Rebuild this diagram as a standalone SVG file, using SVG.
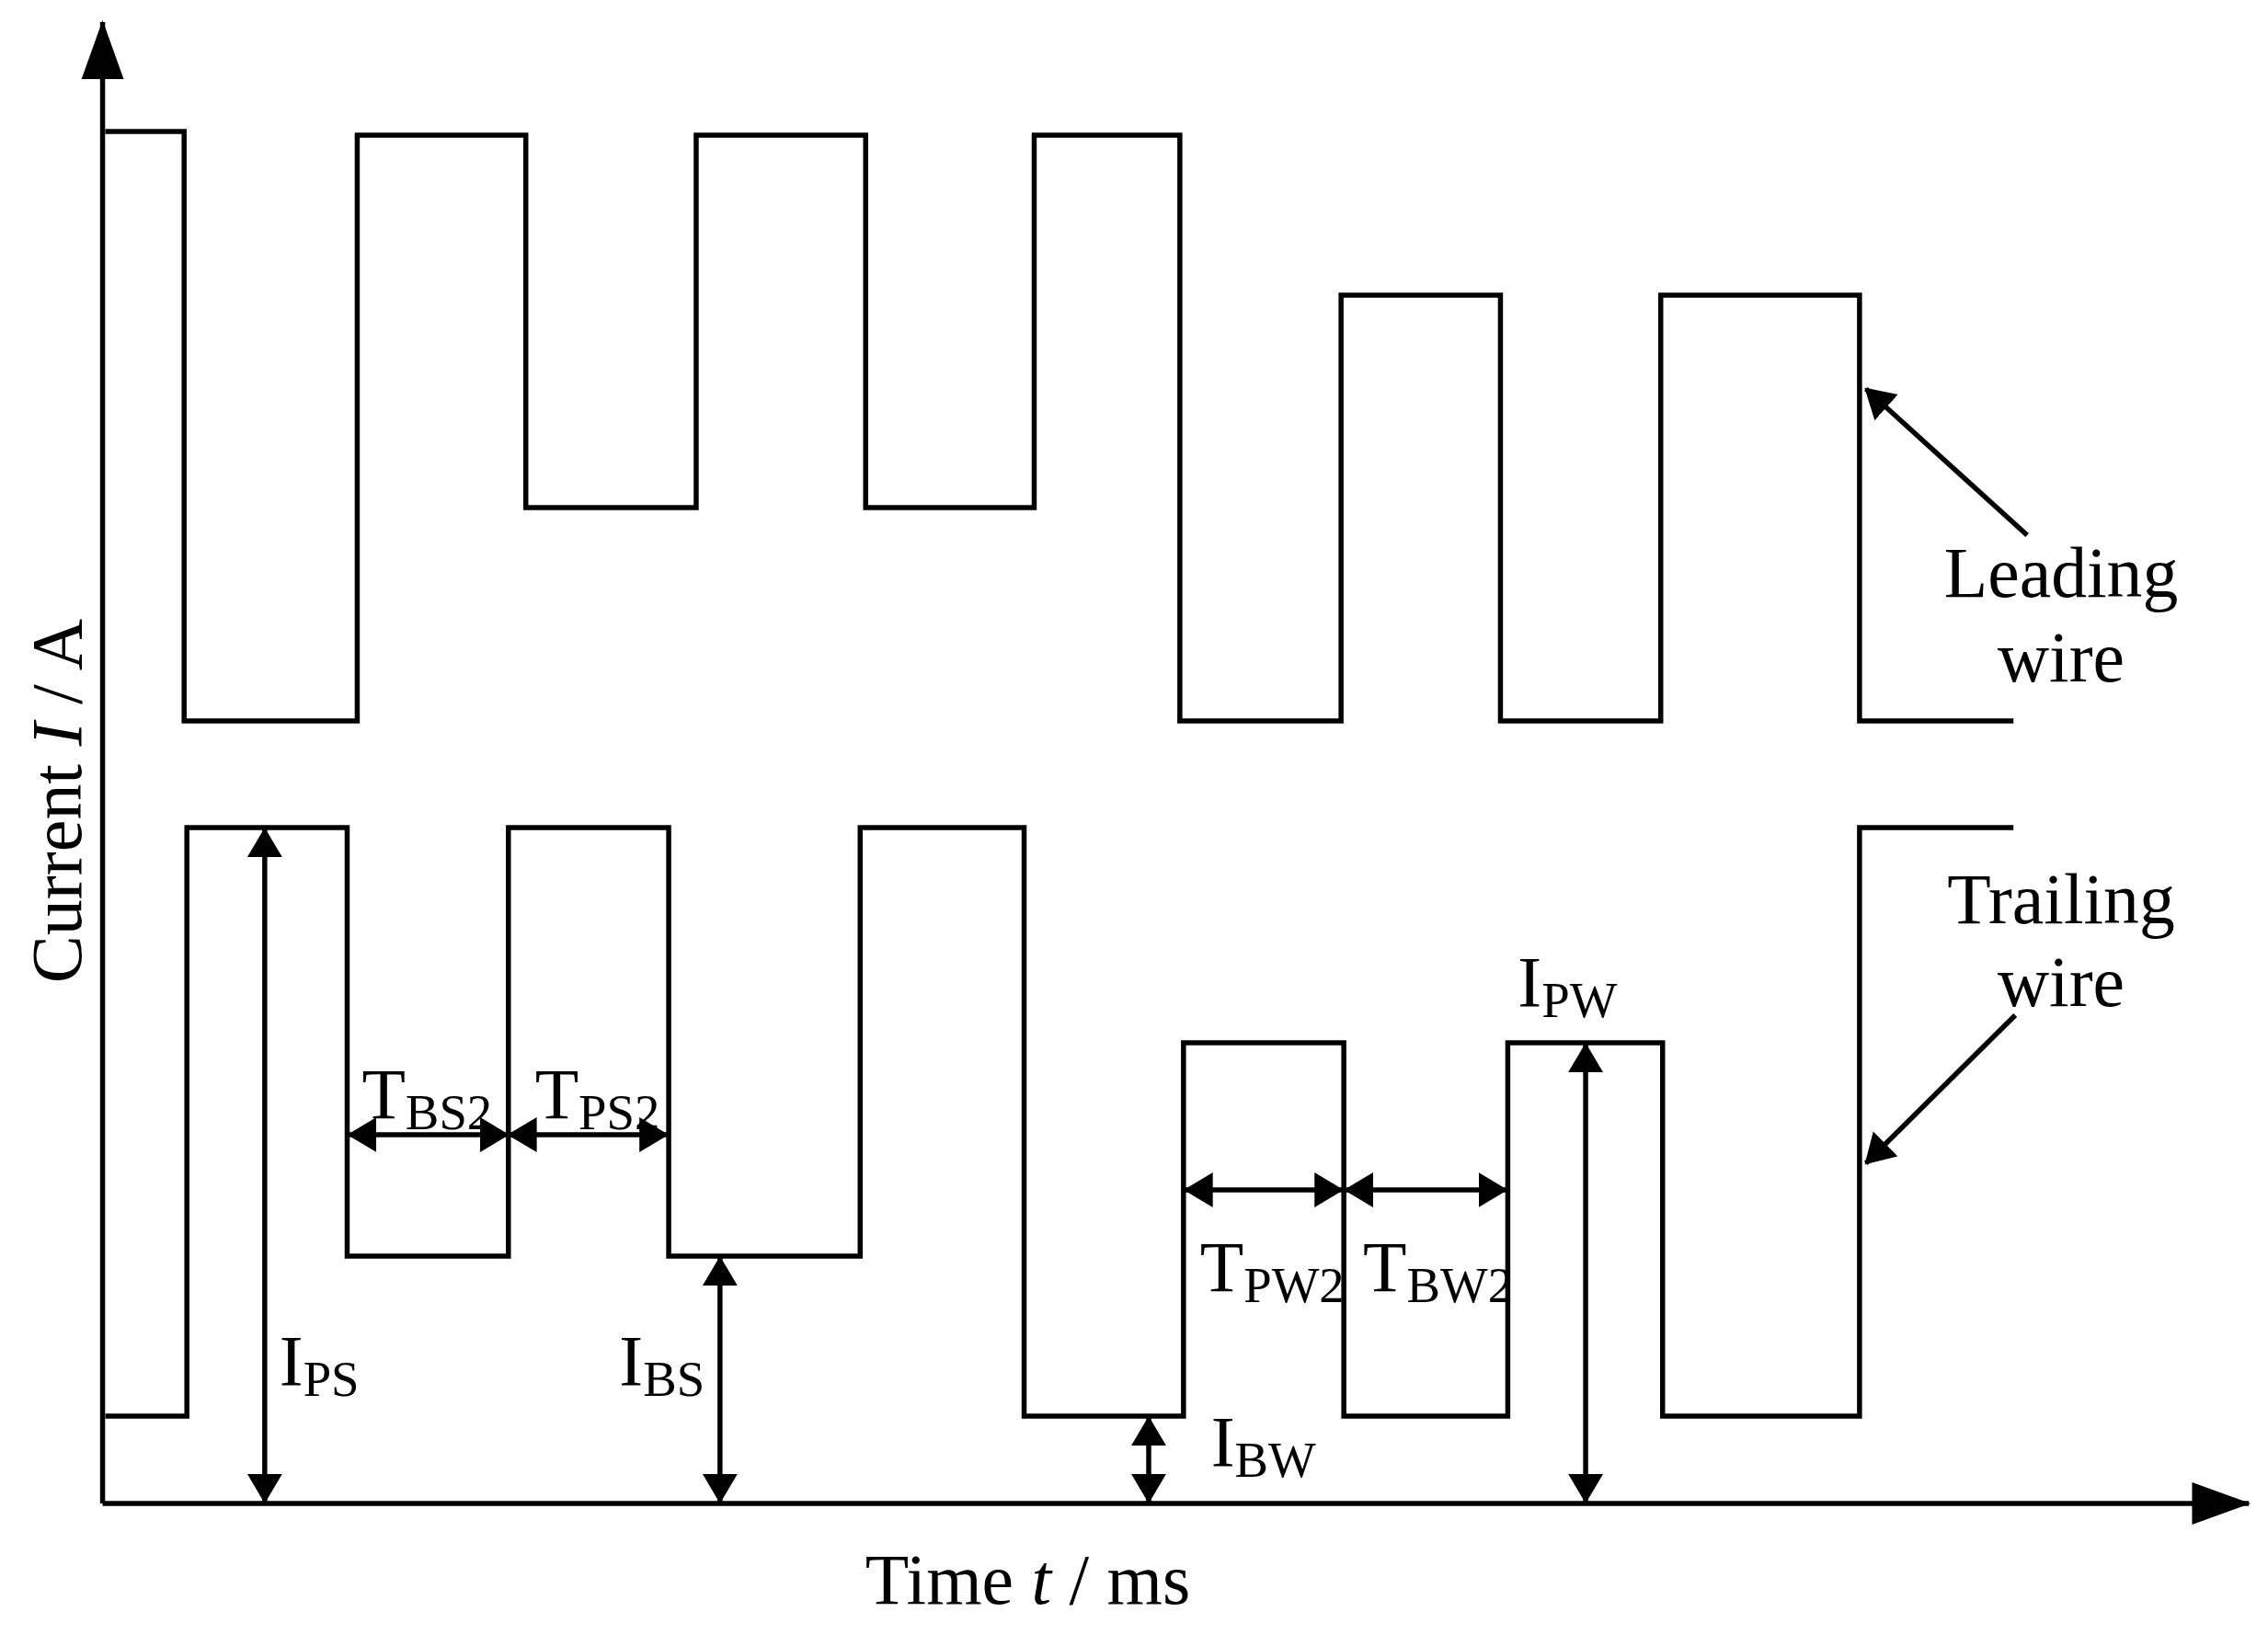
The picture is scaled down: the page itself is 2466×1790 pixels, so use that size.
<svg xmlns="http://www.w3.org/2000/svg" width="2466" height="1790" viewBox="0 0 2466 1790">
<style>
.w{fill:none;stroke:#000;stroke-width:5.5;stroke-linejoin:miter}
.d{fill:none;stroke:#000;stroke-width:5.5}
text{font-family:"Liberation Serif","Times New Roman",serif;fill:#000}
.l{font-size:78px}
.s{font-size:55px}
</style>
<defs>
<marker id="ah" markerUnits="userSpaceOnUse" markerWidth="32" markerHeight="42" viewBox="0 0 32 42" refX="30" refY="21" orient="auto-start-reverse"><polygon points="0,2 32,21 0,40"/></marker>
<marker id="ax" markerUnits="userSpaceOnUse" markerWidth="64" markerHeight="50" viewBox="0 0 64 50" refX="62" refY="25" orient="auto"><polygon points="0,2 64,25 0,48"/></marker>
</defs>
<g transform="translate(0,-6) scale(0.996,1)">
<g id="axes">
<line class="w" x1="112" y1="1641" x2="112" y2="30" marker-end="url(#ax)"/>
<line class="w" x1="112" y1="1641" x2="2455" y2="1641" marker-end="url(#ax)"/>
<text class="l" x="1122" y="1750" text-anchor="middle">Time <tspan font-style="italic">t</tspan> / ms</text>
<text class="l" transform="translate(88,877) rotate(-90)" text-anchor="middle">Current <tspan font-style="italic">I</tspan> / A</text>
</g>
<g id="leading">
<polyline class="w" points="115,149 201,149 201,790 390,790 390,153 574,153 574,558 760,558 760,153 945,153 945,558 1129,558 1129,153 1288,153 1288,790 1464,790 1464,327 1638,327 1638,790 1813,790 1813,327 2030,327 2030,790 2198,790"/>
<text class="l" x="2250" y="655" text-anchor="middle">Leading</text>
<text class="l" x="2250" y="747" text-anchor="middle">wire</text>
</g>
<g id="trailing">
<polyline class="w" points="115,1546 204,1546 204,906 379,906 379,1372 555,1372 555,906 730,906 730,1372 939,1372 939,906 1118,906 1118,1546 1292,1546 1292,1140 1467,1140 1467,1546 1646,1546 1646,1140 1815,1140 1815,1546 2030,1546 2030,906 2198,906"/>
<text class="l" x="2250" y="1010" text-anchor="middle">Trailing</text>
<text class="l" x="2250" y="1100" text-anchor="middle">wire</text>
</g>
<g id="connectors">
<line class="d" x1="2213" y1="588" x2="2037" y2="429" marker-end="url(#ah)"/>
<line class="d" x1="2200" y1="1110" x2="2037" y2="1271" marker-end="url(#ah)"/>
<line class="d" x1="289" y1="908" x2="289" y2="1639" marker-start="url(#ah)" marker-end="url(#ah)"/>
<line class="d" x1="786" y1="1374" x2="786" y2="1639" marker-start="url(#ah)" marker-end="url(#ah)"/>
<line class="d" x1="1254" y1="1548" x2="1254" y2="1639" marker-start="url(#ah)" marker-end="url(#ah)"/>
<line class="d" x1="1731" y1="1142" x2="1731" y2="1639" marker-start="url(#ah)" marker-end="url(#ah)"/>
<line class="d" x1="381" y1="1240" x2="554" y2="1240" marker-start="url(#ah)" marker-end="url(#ah)"/>
<line class="d" x1="556" y1="1240" x2="728" y2="1240" marker-start="url(#ah)" marker-end="url(#ah)"/>
<line class="d" x1="1294" y1="1300" x2="1465" y2="1300" marker-start="url(#ah)" marker-end="url(#ah)"/>
<line class="d" x1="1469" y1="1300" x2="1644" y2="1300" marker-start="url(#ah)" marker-end="url(#ah)"/>
</g>
<g id="labels">
<text class="l" x="395" y="1222">T<tspan class="s" dy="12">BS2</tspan></text>
<text class="l" x="584" y="1222">T<tspan class="s" dy="12">PS2</tspan></text>
<text class="l" x="1310" y="1410">T<tspan class="s" dy="12">PW2</tspan></text>
<text class="l" x="1488" y="1410">T<tspan class="s" dy="12">BW2</tspan></text>
<text class="l" x="305" y="1512">I<tspan class="s" dy="12">PS</tspan></text>
<text class="l" x="676" y="1512">I<tspan class="s" dy="12">BS</tspan></text>
<text class="l" x="1322" y="1600">I<tspan class="s" dy="12">BW</tspan></text>
<text class="l" x="1657" y="1100">I<tspan class="s" dy="12">PW</tspan></text>
</g>
</g>
</svg>
